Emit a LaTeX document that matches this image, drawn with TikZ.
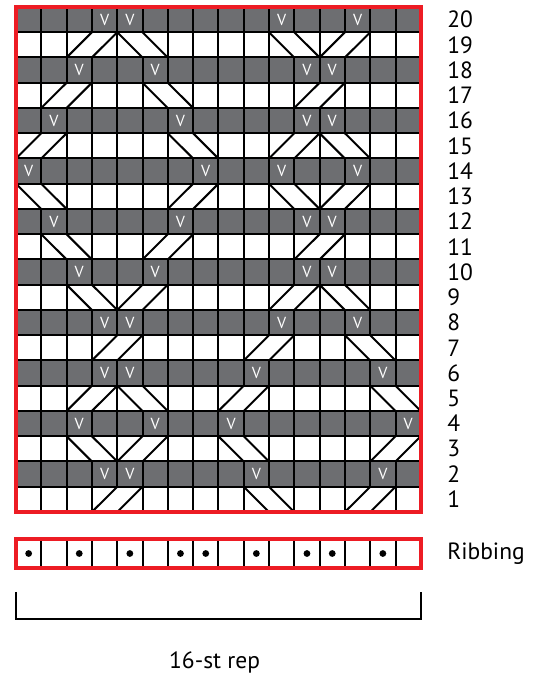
\documentclass[tikz,border=0pt]{standalone}
\usepackage{fontspec}
\setmainfont{PT Sans}
\usetikzlibrary{positioning}
\definecolor{chartgray}{HTML}{6D6E71}
\definecolor{chartred}{HTML}{ED1C24}
\tikzset{
  grid line/.style = {black, line width=2pt},
  cable line/.style = {black, line width=2pt},
  frame/.style = {chartred, line width=4pt},
  slip/.style = {text=white, font=\fontsize{16}{16}\selectfont, inner sep=0pt},
  rowlabel/.style = {font=\fontsize{23.5}{23.5}\selectfont, inner sep=0pt, anchor=west}
}
\begin{document}
\begin{tikzpicture}[x=25.3pt, y=25.25pt]
  \useasboundingbox (-16pt,-162pt) rectangle (522pt,512pt);
  % rising cross over two stitches, left column #1, row #2
  \def\rcab#1#2{%
    \fill[white] ([shift={(1pt,1pt)}]#1-1,#2-1) rectangle ([shift={(-1pt,-1pt)}]#1+1,#2);
    \draw[cable line] (#1-1,#2-1) -- (#1,#2);
    \draw[cable line] (#1,#2-1) -- (#1+1,#2);
  }
  % falling cross over two stitches
  \def\fcab#1#2{%
    \fill[white] ([shift={(1pt,1pt)}]#1-1,#2-1) rectangle ([shift={(-1pt,-1pt)}]#1+1,#2);
    \draw[cable line] (#1-1,#2) -- (#1,#2-1);
    \draw[cable line] (#1,#2) -- (#1+1,#2-1);
  }
  % wrong side rows in gray
  \foreach \r in {2,4,...,20}
    \fill[chartgray] (0,\r-1) rectangle (16,\r);
  \foreach \r in {1,...,19}
    \draw[grid line] (0,\r) -- (16,\r);
  \foreach \c in {1,...,15}
    \draw[grid line] (\c,0) -- (\c,20);
  % cables
  \foreach \c/\r in {3/19,13/19,2/17,12/17,1/15,11/15,7/13,13/13,6/11,12/11,
                     5/9,11/9,4/7,10/7,3/5,9/5,5/3,15/3,4/1,14/1}
    \rcab\c\r;
  \foreach \c/\r in {5/19,11/19,6/17,7/15,13/15,1/13,11/13,2/11,3/9,13/9,
                     14/7,5/5,15/5,3/3,9/3,10/1}
    \fcab\c\r;
  % slipped stitches
  \foreach \c/\r in {4/20,5/20,11/20,14/20, 3/18,6/18,12/18,13/18,
                     2/16,7/16,12/16,13/16, 1/14,8/14,11/14,14/14,
                     2/12,7/12,12/12,13/12, 3/10,6/10,12/10,13/10,
                     4/8,5/8,11/8,14/8, 4/6,5/6,10/6,15/6,
                     3/4,6/4,9/4,16/4, 4/2,5/2,10/2,15/2}
    \node[slip] (v-\c-\r) at (\c-0.5,\r-0.5) {V};
  \draw[frame] (0,0) rectangle (16,20);
  \foreach \r in {1,...,20}
    \node[rowlabel] (row-\r) at (17.04,\r-0.5) {\r};

  % ribbing row
  \foreach \c in {1,...,15}
    \draw[grid line] (\c,-2.218) -- (\c,-1.069);
  \foreach \c in {1,3,5,7,8,10,12,13,15}
    \fill (\c-0.5,-1.644) circle (3.4pt);
  \draw[frame] (0,-2.218) rectangle (16,-1.069);
  \node[rowlabel] (ribbing) at (17.04,-1.644) {Ribbing};

  % repeat bracket
  \draw[grid line] (0,-3.168) -- (0,-4.238) -- (16,-4.238) -- (16,-3.168);
  \node[rowlabel, anchor=center] (rep) at (7.85,-5.94) {16-st rep};
\end{tikzpicture}
\end{document}
